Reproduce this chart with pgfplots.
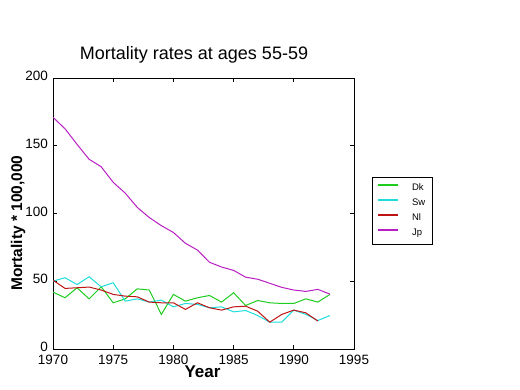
\documentclass[border=0pt]{standalone}
\usepackage{pgfplots}
\pgfplotsset{compat=1.18}
\usepackage{fontspec}
\setmainfont{Liberation Sans}
\definecolor{cDk}{RGB}{30,205,30}
\definecolor{cSw}{RGB}{30,220,220}
\definecolor{cNl}{RGB}{190,20,20}
\definecolor{cJp}{RGB}{185,30,195}
\begin{document}
\begin{tikzpicture}[x=1pt,y=1pt]
\useasboundingbox (0,0) rectangle (520,390);
\begin{axis}[
  at={(53pt,41pt)}, anchor=south west,
  scale only axis, width=301pt, height=271pt,
  xmin=1970, xmax=1995, ymin=0, ymax=200,
  xtick={1970,1975,1980,1985,1990,1995},
  ytick={0,50,100,150,200},
  tick align=inside, major tick length=4pt,
  /pgf/number format/assume math mode=true,
  /pgf/number format/1000 sep={},
  tick label style={font=\fontsize{13.5}{14}\selectfont},
  xticklabel style={inner sep=0pt, yshift=-5.5pt},
  yticklabel style={inner sep=0pt, xshift=-5pt, yshift=2pt},
  axis line style={line width=0.8pt},
  tick style={black, line width=0.8pt},
  every axis plot/.append style={line width=1pt, mark=none},
  legend image code/.code={\draw[#1,line width=1.8pt] (0pt,3pt) -- (20pt,3pt);},
  legend cell align=left,
  legend style={at={(1.06,0.635)}, anchor=north west,
    font=\fontsize{9.5}{10}\selectfont, inner xsep=5pt, inner ysep=5pt,
    column sep=11pt, row sep=2.6pt},
]
\addplot[color=cDk] coordinates {
(1970,42) (1971,37.8) (1972,45.2) (1973,37) (1974,45.9) (1975,34.1) (1976,37)
(1977,44.4) (1978,43.5) (1979,25.5) (1980,40.3) (1981,35.3) (1982,37.8) (1983,39.5)
(1984,34.6) (1985,41.5) (1986,32.1) (1987,35.8) (1988,34.1) (1989,33.6) (1990,33.6)
(1991,37) (1992,34.6) (1993,40.3)};
\addlegendentry{Dk}
\addplot[color=cSw] coordinates {
(1970,50.1) (1971,52.6) (1972,47.6) (1973,53.3) (1974,45.9) (1975,48.9) (1976,35.3)
(1977,37) (1978,34.6) (1979,36.1) (1980,31.1) (1981,33.6) (1982,32.9) (1983,30.4)
(1984,31.1) (1985,27.4) (1986,28.4) (1987,24.7) (1988,19.8) (1989,19.8) (1990,28.7)
(1991,25.5) (1992,21) (1993,24.7)};
\addlegendentry{Sw}
\addplot[color=cNl] coordinates {
(1970,50.8) (1971,44.7) (1972,45.2) (1973,45.7) (1974,43.5) (1975,40.3) (1976,39)
(1977,38.5) (1978,34.6) (1979,34.1) (1980,34.1) (1981,29.2) (1982,34.1) (1983,30.4)
(1984,28.7) (1985,31.1) (1986,31.6) (1987,27.9) (1988,19.8) (1989,25.5) (1990,28.7)
(1991,26.7) (1992,20.6)};
\addlegendentry{Nl}
\addplot[color=cJp] coordinates {
(1970,171) (1971,162.5) (1972,151) (1973,140) (1974,134.5) (1975,123) (1976,115)
(1977,104.5) (1978,97) (1979,91) (1980,86) (1981,78) (1982,73) (1983,64)
(1984,60.5) (1985,58) (1986,53) (1987,51.5) (1988,48.5) (1989,45.5) (1990,43.5)
(1991,42.5) (1992,44) (1993,40.5)};
\addlegendentry{Jp}
\end{axis}
\node[anchor=base, font=\fontsize{18}{20}\selectfont, inner sep=0pt] at (194,330) {Mortality rates at ages 55-59};
\node[anchor=base, font=\bfseries\fontsize{17}{19}\selectfont, inner sep=0pt] at (202.5,12) {Year};
\node[anchor=base, rotate=90, font=\bfseries\fontsize{15.5}{17}\selectfont, inner sep=0pt] at (22,167) {Mortality * 100,000};
\end{tikzpicture}
\end{document}
